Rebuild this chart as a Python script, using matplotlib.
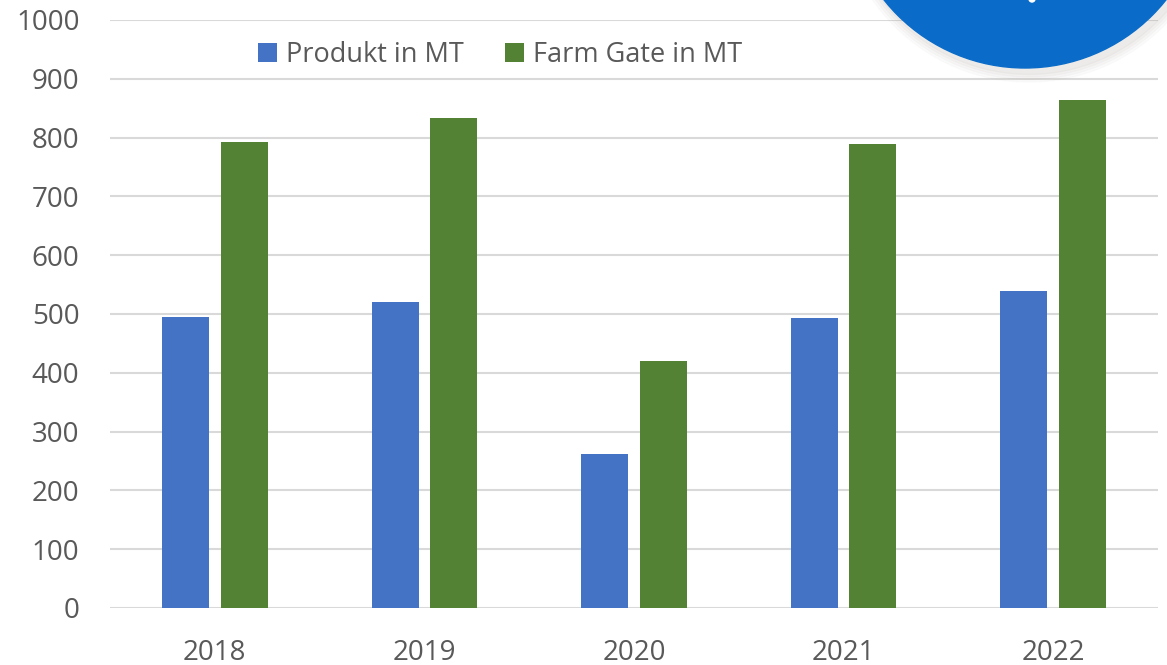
import matplotlib.pyplot as plt
from matplotlib.patches import Circle
import numpy as np

years = ["2018", "2019", "2020", "2021", "2022"]
produkt = [495, 520, 262, 493, 539]
farm_gate = [792, 833, 420, 789, 864]
yticks = [0, 100, 200, 300, 400, 500, 600, 700, 800, 900, 1000]

plt.rcParams['font.family'] = ['Open Sans', 'DejaVu Sans']
text_col = '#595959'

fig = plt.figure(figsize=(11.67, 6.65), dpi=100)
W, H = 1167, 665
ax = fig.add_axes([110 / W, 57 / H, 1048 / W, 588 / H])

x = np.arange(len(years))
bw = 0.224
ax.bar(x - 0.14, produkt, bw, color='#4472c4', label='Produkt in MT', zorder=3)
ax.bar(x + 0.14, farm_gate, bw, color='#548235', label='Farm Gate in MT', zorder=3)

ax.set_xlim(-0.5, len(years) - 0.5)
ax.set_ylim(0, 1000)
ax.set_yticks(yticks)
ax.set_xticks(x, years)
ax.grid(axis='y', color='#d9d9d9', linewidth=1.5, zorder=0)
for s in ax.spines.values():
    s.set_visible(False)
ax.tick_params(length=0, labelsize=20, colors=text_col)
ax.tick_params(axis='y', pad=22)
ax.tick_params(axis='x', pad=22)

fig.legend(loc='center', bbox_to_anchor=(500 / W, 1 - 55 / H), ncol=2,
           frameon=False, fontsize=19.5, labelcolor=text_col,
           handlelength=0.7, handleheight=0.7, handletextpad=0.35,
           columnspacing=1.5)

# partial logo circle in the top right corner
cx, cy, r = 1025, H + 112, 180
for i, a in enumerate([0.04, 0.05, 0.06, 0.08]):
    sh = Circle((cx + 4, cy - 4), r + 10 - 2.5 * i, transform=None,
                color='#b0a8a0', alpha=a, clip_on=False, zorder=5)
    fig.patches.append(sh)
logo = Circle((cx, cy), r, transform=None, color='#0a6cc8',
              clip_on=False, zorder=6)
fig.patches.append(logo)
fig.patches.append(Circle((1032, H + 1), 3, transform=None, color='white',
                          clip_on=False, zorder=7))

fig.savefig('out.png', dpi=100)
